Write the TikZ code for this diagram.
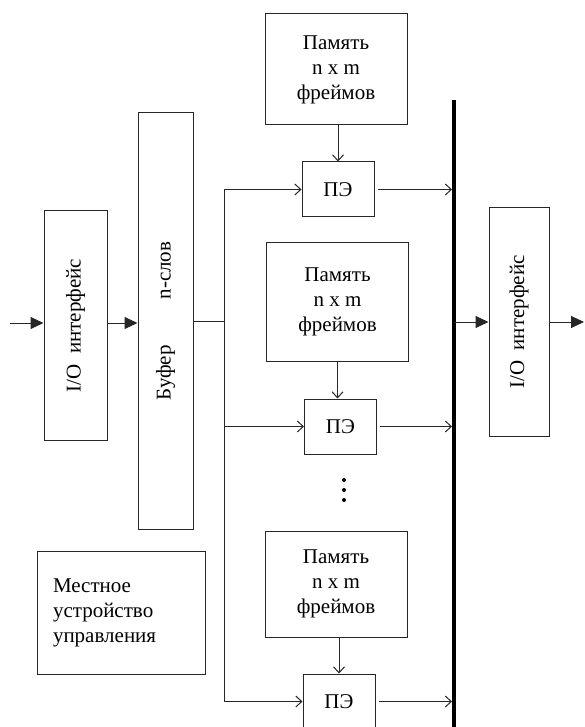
\documentclass[tikz,border=0pt]{standalone}
\usepackage{fontspec}
\setmainfont{Liberation Serif}
\usetikzlibrary{positioning,arrows.meta}

\tikzset{
  block/.style={draw=black!85, line width=1pt, align=center, inner sep=0pt},
  memblock/.style={block, minimum width=142pt},
  peblock/.style={block, minimum width=72pt, minimum height=55pt},
  wire/.style={line width=1pt, draw=black!85},
  feed/.style={wire, -{Straight Barb[length=6pt,width=11pt]}},
  io/.style={wire, -{Triangle[length=13pt,width=12pt]}},
}

\begin{document}
\begin{tikzpicture}[x=1pt, y=-1pt, font=\fontsize{21}{25}\selectfont]
    \useasboundingbox (0,0) rectangle (584,727);

    % input side
    \node[block, minimum width=63pt, minimum height=229pt] (ioL) at (75.5,325.5)
        {\rotatebox{90}{I/O\ \ интерфейс}};
    \node[block, minimum width=55pt, minimum height=416pt] (buf) at (165.5,321)
        {\rotatebox{90}{Буфер\hspace{46pt}n-слов}};
    \node[block, minimum width=168pt, minimum height=123pt, inner xsep=16pt,
          text width=136pt, align=left] (ctrl) at (121,612.5)
        {Местное\\устройство\\управления};

    % memories and processing elements
    \node[memblock, minimum height=111pt] (mem1) at (336,69.5) {Память\\n x m\\фреймов};
    \node[peblock, below=36pt of mem1, xshift=2pt] (pe1) {ПЭ};
    \node[memblock, minimum height=119pt] (mem2) at (337.5,301.5) {Память\\n x m\\фреймов};
    \node[peblock, below=37pt of mem2, xshift=3pt] (pe2) {ПЭ};
    \node[memblock, minimum height=106pt] (mem3) at (336,584) {Память\\n x m\\фреймов};
    \node[peblock, below=36pt of mem3, xshift=3pt] (pe3) {ПЭ};

    % output side
    \node[block, minimum width=60pt, minimum height=228pt] (ioR) at (519,322)
        {\rotatebox{90}{I/O\ \ интерфейс}};

    \coordinate (in) at (10,323);
    \coordinate (out) at (584,322);
    \coordinate (branch) at (224,321);
    \coordinate (bustop) at (454,100);
    \coordinate (busbot) at (454,727);

    % bus
    \draw[line width=4.5pt] (bustop) -- (busbot);

    % dots between the blocks
    \foreach \y in {480,490,500}
        \fill (344,\y) circle (2pt);

    % data path
    \draw[io] (in) -- (in -| ioL.west);
    \draw[io] (ioL.east |- in) -- (buf.west |- in);
    \draw[wire] (buf.east) -- (branch);
    \draw[wire] (branch |- pe1) -- (branch |- pe3);
    \draw[feed] (branch |- pe1) -- (pe1.west);
    \draw[feed] (branch |- pe2) -- (pe2.west);
    \draw[feed] (branch |- pe3) -- (pe3.west);

    \draw[feed] (mem1.south -| pe1) -- (pe1.north);
    \draw[feed] (mem2.south -| mem2) -- (pe2.north -| mem2);
    \draw[feed] (mem3.south -| pe3) -- (pe3.north);

    \draw[feed, shorten >=2pt] ([xshift=3pt]pe1.east) -- (pe1.east -| bustop);
    \draw[feed, shorten >=2pt] ([xshift=3pt]pe2.east) -- (pe2.east -| bustop);
    \draw[feed, shorten >=2pt] ([xshift=3pt]pe3.east) -- (pe3.east -| bustop);

    \draw[io] (ioR.west -| bustop) -- (ioR.west);
    \draw[io] (ioR.east) -- (out);
\end{tikzpicture}
\end{document}
